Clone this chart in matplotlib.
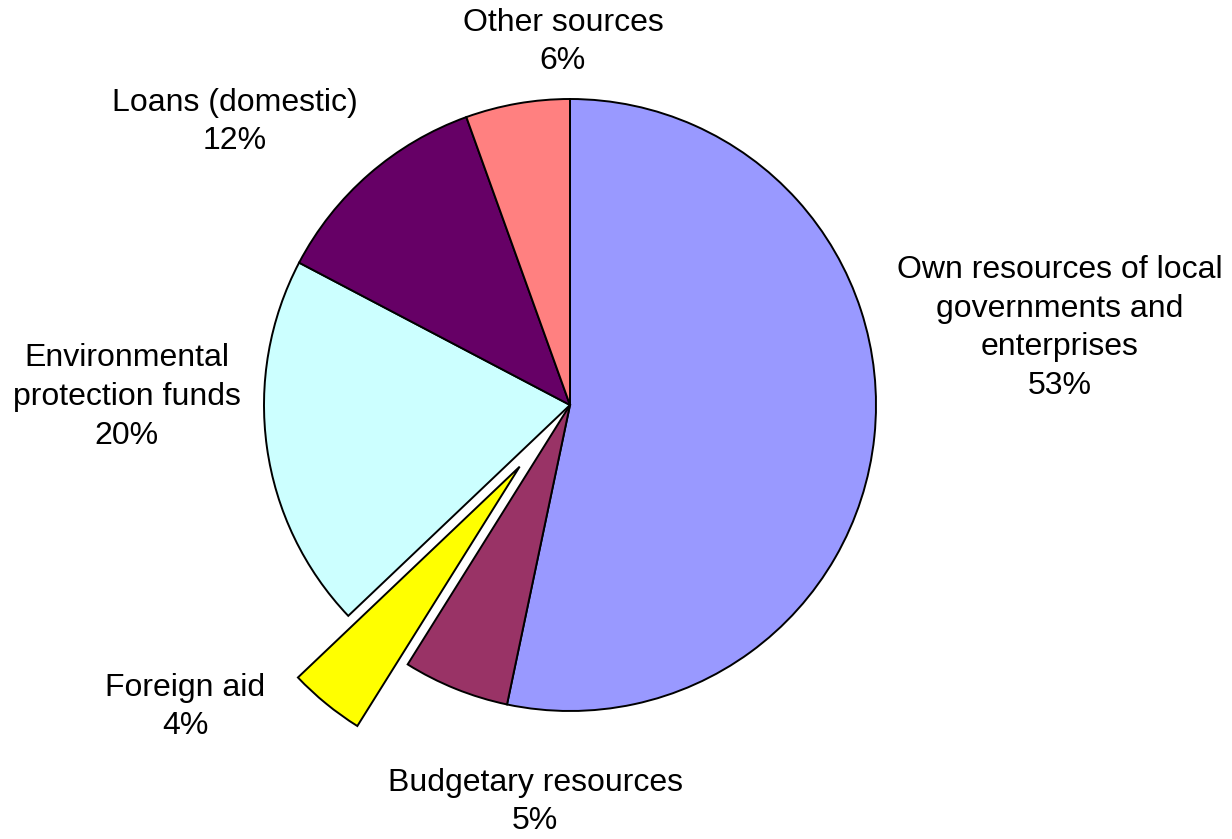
import matplotlib.pyplot as plt

# shares (percent), clockwise from 12 o'clock
sources = ["Own resources of local\ngovernments and\nenterprises",
           "Budgetary resources",
           "Foreign aid",
           "Environmental\nprotection funds",
           "Loans (domestic)",
           "Other sources"]
shares = [53.3, 5.6, 4.0, 19.8, 11.8, 5.5]
pct_labels = ["53%", "5%", "4%", "20%", "12%", "6%"]
colors = ["#9999FF", "#993366", "#FFFF00", "#CCFFFF", "#660066", "#FF8080"]
explode = [0, 0, 0.26, 0, 0, 0]

# label block centres (data units, pie radius = 1)
label_xy = [(1.601, 0.252), (-0.114, -1.297), (-1.258, -0.987),
            (-1.448, 0.026), (-1.095, 0.925), (-0.023, 1.186)]

plt.rcParams["font.family"] = ["Liberation Sans", "DejaVu Sans"]

fig = plt.figure(figsize=(12.32, 8.39), dpi=100)
ax = fig.add_axes([0, 0, 1, 1])

ax.pie(shares, colors=colors, explode=explode, startangle=90,
       counterclock=False, radius=1,
       wedgeprops=dict(edgecolor="black", linewidth=1.4))

for name, pct, (x, y) in zip(sources, pct_labels, label_xy):
    ax.text(x, y, name + "\n" + pct, ha="center", va="center",
            fontsize=23, linespacing=1.38, multialignment="center")

ax.set_xlim(-570 / 306, (1232 - 570) / 306)
ax.set_ylim((405 - 839) / 306, 405 / 306)
ax.set_aspect("equal")
ax.axis("off")

fig.savefig("out.png", dpi=100)
